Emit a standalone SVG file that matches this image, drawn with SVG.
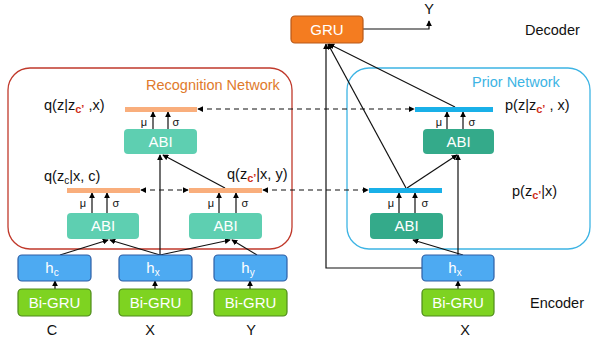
<svg xmlns="http://www.w3.org/2000/svg" width="592" height="345" viewBox="0 0 592 345">
<defs>
<marker id="ah" viewBox="0 0 8 8" refX="7" refY="4" markerWidth="6" markerHeight="6" markerUnits="userSpaceOnUse" orient="auto">
<path d="M0,0 L8,4 L0,8 Z" fill="#000"/>
</marker>
<marker id="ahs" viewBox="0 0 8 8" refX="1" refY="4" markerWidth="6" markerHeight="6" markerUnits="userSpaceOnUse" orient="auto">
<path d="M8,0 L0,4 L8,8 Z" fill="#000"/>
</marker>
</defs>
<style>
text{font-family:"Liberation Sans",Arial,sans-serif;}
.lbl{font-size:14.5px;fill:#111;}
.sub{font-size:11px;fill:#D0301A;font-weight:bold;}
.sm{font-size:11px;fill:#111;}
.wt{font-size:15px;fill:#fff;text-anchor:middle;}
.arr{stroke:#111;stroke-width:1.2;fill:none;marker-end:url(#ah);}
.dash{stroke:#111;stroke-width:1.2;fill:none;stroke-dasharray:5,4;marker-end:url(#ah);marker-start:url(#ahs);}
.abi1{fill:#5ECFB1;}
.abi2{fill:#34AA8A;}
.h{fill:#4DAAF2;stroke:#2E5FA6;stroke-width:1.2;}
.bg{fill:#7ED321;stroke:#4E8A1A;stroke-width:1.2;}
.ob{fill:#F9AE7C;}
.bb{fill:#19B0E8;}
</style>

<g id="recognition-network">
<rect x="8" y="68" width="284" height="181" rx="22" fill="none" stroke="#C0392B" stroke-width="1.3"/>
<text x="146" y="90" style="font-size:14.5px;fill:#E07A2C">Recognition Network</text>
</g>
<g id="prior-network">
<rect x="347" y="68" width="243" height="181" rx="22" fill="none" stroke="#3DB4E4" stroke-width="1.3"/>
<text x="472" y="87" style="font-size:14.5px;fill:#3DB4E4">Prior Network</text>
</g>

<g id="connectors">
<line class="arr" x1="55" y1="289" x2="55" y2="281"/>
<line class="arr" x1="155" y1="289" x2="155" y2="281"/>
<line class="arr" x1="250" y1="289" x2="250" y2="281"/>
<line class="arr" x1="458" y1="289" x2="458" y2="281"/>
<line class="arr" x1="60" y1="255" x2="108" y2="240"/>
<line class="arr" x1="160" y1="255" x2="110" y2="240"/>
<line class="arr" x1="160" y1="255" x2="230" y2="240"/>
<line class="arr" x1="257" y1="255" x2="232" y2="240"/>
<line class="arr" x1="160" y1="255" x2="160" y2="155"/>
<line class="arr" x1="225" y1="188" x2="163" y2="155"/>
<line class="arr" x1="153" y1="129" x2="153" y2="112"/>
<line class="arr" x1="168" y1="129" x2="168" y2="112"/>
<line class="arr" x1="92" y1="213" x2="92" y2="193"/>
<line class="arr" x1="107" y1="213" x2="107" y2="193"/>
<line class="arr" x1="219" y1="213" x2="219" y2="193"/>
<line class="arr" x1="236" y1="213" x2="236" y2="193"/>
<line class="arr" x1="399" y1="213" x2="399" y2="193"/>
<line class="arr" x1="415" y1="213" x2="415" y2="193"/>
<line class="arr" x1="447" y1="129" x2="447" y2="112"/>
<line class="arr" x1="463" y1="129" x2="463" y2="112"/>
<line class="arr" x1="463" y1="255" x2="413" y2="240"/>
<line class="arr" x1="458" y1="255" x2="458" y2="155"/>
<line class="arr" x1="407" y1="188" x2="457" y2="155"/>
<polyline class="arr" points="422,268 326,268 326,44"/>
<line class="arr" x1="406" y1="188" x2="328" y2="44"/>
<line class="arr" x1="455" y1="107" x2="329" y2="44"/>
<polyline class="arr" points="363,29 429,29 429,21"/>
<line class="dash" x1="198" y1="109" x2="414" y2="109"/>
<line class="dash" x1="141" y1="190" x2="188" y2="190"/>
<line class="dash" x1="263" y1="190" x2="368" y2="190"/>
</g>

<g id="gru">
<rect x="291" y="16" width="72" height="27" rx="4" fill="#F47C20" stroke="#B85818" stroke-width="1.2"/>
<text class="wt" x="327" y="35">GRU</text>
</g>
<g id="y-out"><text class="lbl" x="429" y="14" text-anchor="middle">Y</text></g>
<g id="decoder-label"><text class="lbl" x="525" y="35">Decoder</text></g>
<g id="encoder-label"><text class="lbl" x="530" y="308">Encoder</text></g>

<g id="q-top">
<rect class="ob" x="125" y="107" width="72" height="5"/>
<text class="lbl" x="44" y="110">q(z|z<tspan class="sub" dy="3">c’</tspan><tspan dy="-3"> ,x)</tspan></text>
<text class="sm" x="144" y="126" text-anchor="middle">μ</text>
<text class="sm" x="176" y="126" text-anchor="middle">σ</text>
</g>
<g id="abi-top"><rect class="abi1" x="124" y="129" width="73" height="25" rx="4"/><text class="wt" x="160.5" y="147">ABI</text></g>

<g id="q-c">
<rect class="ob" x="67" y="188" width="73" height="5"/>
<text class="lbl" x="44" y="181">q(z<tspan style="font-size:10px" dy="3">c</tspan><tspan dy="-3">|x, c)</tspan></text>
<text class="sm" x="83" y="207" text-anchor="middle">μ</text>
<text class="sm" x="116" y="207" text-anchor="middle">σ</text>
</g>
<g id="abi-c"><rect class="abi1" x="67" y="213" width="72" height="26" rx="4"/><text class="wt" x="103" y="231">ABI</text></g>

<g id="q-cy">
<rect class="ob" x="189" y="188" width="73" height="5"/>
<text class="lbl" x="227" y="179">q(z<tspan class="sub" dy="3">c’</tspan><tspan dy="-3">|x, y)</tspan></text>
<text class="sm" x="211" y="207" text-anchor="middle">μ</text>
<text class="sm" x="245" y="207" text-anchor="middle">σ</text>
</g>
<g id="abi-y"><rect class="abi1" x="189" y="213" width="73" height="26" rx="4"/><text class="wt" x="225.5" y="231">ABI</text></g>

<g id="p-top">
<rect class="bb" x="415" y="107" width="78" height="5"/>
<text class="lbl" x="505" y="110">p(z|z<tspan class="sub" dy="3">c’</tspan><tspan dy="-3"> , x)</tspan></text>
<text class="sm" x="439" y="126" text-anchor="middle">μ</text>
<text class="sm" x="472" y="126" text-anchor="middle">σ</text>
</g>
<g id="abi-prior-top"><rect class="abi2" x="423" y="129" width="71" height="25" rx="4"/><text class="wt" x="458.5" y="147">ABI</text></g>

<g id="p-c">
<rect class="bb" x="369" y="188" width="73" height="5"/>
<text class="lbl" x="512" y="196">p(z<tspan class="sub" dy="3">c’</tspan><tspan dy="-3">|x)</tspan></text>
<text class="sm" x="391" y="207" text-anchor="middle">μ</text>
<text class="sm" x="425" y="207" text-anchor="middle">σ</text>
</g>
<g id="abi-prior-low"><rect class="abi2" x="370" y="213" width="73" height="26" rx="4"/><text class="wt" x="406.5" y="231">ABI</text></g>

<g id="hc"><rect class="h" x="18" y="255" width="73" height="26" rx="4"/><text class="wt" x="52" y="273">h<tspan style="font-size:10px" dy="3">c</tspan></text></g>
<g id="hx"><rect class="h" x="119" y="255" width="73" height="26" rx="4"/><text class="wt" x="153" y="273">h<tspan style="font-size:10px" dy="3">x</tspan></text></g>
<g id="hy"><rect class="h" x="214" y="255" width="73" height="26" rx="4"/><text class="wt" x="248" y="273">h<tspan style="font-size:10px" dy="3">y</tspan></text></g>
<g id="hx-prior"><rect class="h" x="422" y="255" width="72" height="26" rx="4"/><text class="wt" x="455" y="273">h<tspan style="font-size:10px" dy="3">x</tspan></text></g>

<g id="bigru-c"><rect class="bg" x="18" y="289" width="73" height="27" rx="4"/><text class="wt" x="54.5" y="308">Bi-GRU</text></g>
<g id="bigru-x"><rect class="bg" x="119" y="289" width="73" height="27" rx="4"/><text class="wt" x="155.5" y="308">Bi-GRU</text></g>
<g id="bigru-y"><rect class="bg" x="214" y="289" width="73" height="27" rx="4"/><text class="wt" x="250.5" y="308">Bi-GRU</text></g>
<g id="bigru-x-prior"><rect class="bg" x="422" y="289" width="72" height="27" rx="4"/><text class="wt" x="458" y="308">Bi-GRU</text></g>

<g id="inputs">
<text class="lbl" x="52" y="335" text-anchor="middle">C</text>
<text class="lbl" x="150" y="335" text-anchor="middle">X</text>
<text class="lbl" x="251" y="335" text-anchor="middle">Y</text>
<text class="lbl" x="465" y="335" text-anchor="middle">X</text>
</g>
</svg>
